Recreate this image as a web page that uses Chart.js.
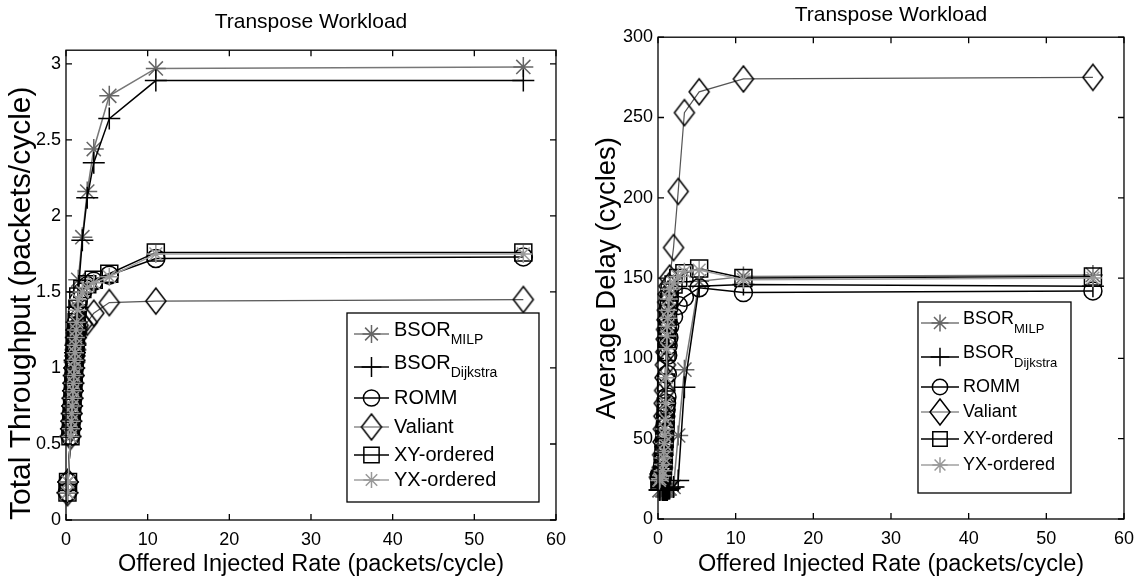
<!DOCTYPE html>
<html>
<head>
<meta charset="utf-8">
<title>Transpose Workload</title>
<script src="https://cdn.jsdelivr.net/npm/chart.js@4.4.1/dist/chart.umd.min.js"></script>
<style>
body { margin: 0; background: #fff; }
#wrap { width: 1143px; height: 582px; display: flex; }
canvas { display: block; }
</style>
</head>
<body>
<div id="wrap">
  <canvas id="throughput-chart" width="575" height="582"></canvas>
  <canvas id="delay-chart" width="568" height="582"></canvas>
</div>
<script>
// offered injected rate (packets/cycle), shared by every series
var rates = [0.18, 0.25, 0.55, 0.6, 0.65, 0.7, 0.75, 0.8, 0.85, 0.9, 0.95, 1.0, 1.05, 1.1, 1.15, 1.2, 1.25, 1.3, 1.4, 1.5, 2.0, 2.6, 3.4, 5.3, 11, 56];

// total throughput (packets/cycle)
var thrMilp     = [0.18, 0.25, 0.55, 0.6, 0.65, 0.7, 0.75, 0.8, 0.85, 0.9, 0.95, 1.0, 1.05, 1.1, 1.15, 1.2, 1.25, 1.3, 1.4, 1.58, 1.86, 2.16, 2.44, 2.79, 2.97, 2.98];
var thrDijkstra = [0.18, 0.25, 0.55, 0.6, 0.65, 0.7, 0.75, 0.8, 0.85, 0.9, 0.95, 1.0, 1.05, 1.1, 1.15, 1.2, 1.25, 1.3, 1.4, 1.5, 1.84, 2.12, 2.35, 2.64, 2.89, 2.89];
var thrRomm     = [0.18, 0.25, 0.55, 0.6, 0.65, 0.7, 0.75, 0.8, 0.85, 0.9, 0.95, 1.0, 1.05, 1.1, 1.15, 1.2, 1.25, 1.3, 1.37, 1.44, 1.5, 1.54, 1.57, 1.61, 1.72, 1.73];
var thrValiant  = [0.18, 0.25, 0.55, 0.6, 0.65, 0.7, 0.75, 0.8, 0.85, 0.9, 0.95, 1.0, 1.04, 1.08, 1.12, 1.16, 1.2, 1.23, 1.26, 1.28, 1.29, 1.3, 1.36, 1.43, 1.44, 1.45];
var thrXY       = [0.18, 0.25, 0.55, 0.6, 0.65, 0.7, 0.75, 0.8, 0.85, 0.9, 0.95, 1.0, 1.05, 1.1, 1.15, 1.2, 1.25, 1.3, 1.39, 1.47, 1.52, 1.55, 1.58, 1.62, 1.76, 1.76];
var thrYX       = [0.18, 0.25, 0.55, 0.6, 0.65, 0.7, 0.75, 0.8, 0.85, 0.9, 0.95, 1.0, 1.05, 1.1, 1.15, 1.2, 1.25, 1.3, 1.38, 1.45, 1.5, 1.53, 1.56, 1.6, 1.75, 1.75];

// average delay (cycles)
var delMilp     = [18, 18, 18, 18, 18, 18, 18, 18, 18, 18, 18, 18, 18, 18, 18, 18, 19, 19, 19, 19, 20, 52, 93, 148, 151, 152];
var delDijkstra = [18, 18, 18, 18, 18, 18, 18, 18, 18, 18, 18, 18, 18, 18, 18, 18, 19, 19, 19, 19, 20, 24, 82, 145, 146, 145];
var delRomm     = [25, 26, 29, 33, 37, 41, 45, 49, 53, 57, 60, 64, 68, 72, 76, 90, 102, 108, 113, 120, 126, 133, 138, 144, 141, 142];
var delValiant  = [26, 28, 32, 40, 48, 56, 64, 72, 80, 88, 96, 104, 112, 118, 124, 130, 135, 140, 145, 150, 169, 204, 253, 266, 274, 275];
var delXY       = [24, 25, 27, 30, 33, 36, 40, 45, 50, 54, 60, 70, 85, 104, 112, 118, 123, 128, 135, 141, 146, 150, 153, 156, 150, 151];
var delYX       = [24, 25, 27, 30, 34, 38, 42, 47, 52, 56, 62, 72, 88, 106, 114, 120, 125, 130, 137, 143, 147, 151, 154, 155, 149, 150];

// legend names, [main text, subscript]
var seriesNames = [['BSOR', 'MILP'], ['BSOR', 'Dijkstra'], ['ROMM', ''], ['Valiant', ''], ['XY-ordered', ''], ['YX-ordered', '']];

var xTicks = [0, 10, 20, 30, 40, 50, 60];
var thrTicks = [0, 0.5, 1, 1.5, 2, 2.5, 3];
var delayTicks = [0, 50, 100, 150, 200, 250, 300];

var FONT = '"Liberation Sans", Arial, Helvetica, sans-serif';

// MATLAB diamonds are taller than wide
function tallDiamond(hw, hh) {
    var c = document.createElement('canvas');
    c.width = hw * 2 + 4;
    c.height = hh * 2 + 4;
    var g = c.getContext('2d');
    var cx = c.width / 2, cy = c.height / 2;
    g.strokeStyle = '#000';
    g.lineWidth = 1.5;
    g.beginPath();
    g.moveTo(cx, cy - hh);
    g.lineTo(cx + hw, cy);
    g.lineTo(cx, cy + hh);
    g.lineTo(cx - hw, cy);
    g.closePath();
    g.stroke();
    return c;
}

var styles = [
    { line: '#777777', mark: '#666666', shape: 'star',    r: 10, lw: 1.5 },
    { line: '#000000', mark: '#000000', shape: 'cross',   r: 11, lw: 1.5 },
    { line: '#000000', mark: '#000000', shape: 'circle',  r: 9,  lw: 1.5 },
    { line: '#555555', mark: '#000000', shape: tallDiamond(10, 13), r: 11, lw: 1.2 },
    { line: '#000000', mark: '#000000', shape: 'rect',    r: 12, lw: 1.5 },
    { line: '#a0a0a0', mark: '#999999', shape: 'star',    r: 9,  lw: 1.5 }
];

function makeDatasets(valueLists) {
    return valueLists.map(function (vals, i) {
        var s = styles[i];
        return {
            label: seriesNames[i].join(''),
            names: seriesNames[i],
            data: rates.map(function (r, j) { return { x: r, y: vals[j] }; }),
            borderColor: s.line,
            borderWidth: s.lw,
            pointStyle: s.shape,
            pointRadius: s.r,
            pointBorderColor: s.mark,
            pointBorderWidth: 1.5,
            pointBackgroundColor: 'rgba(0,0,0,0)',
            fill: false,
            tension: 0,
            clip: false,
            order: 5 - i
        };
    });
}

// box around the plot with inward ticks on every side (MATLAB style)
var frameTicks = {
    id: 'frameTicks',
    afterDraw: function (chart) {
        var a = chart.chartArea, ctx = chart.ctx, len = 6;
        ctx.save();
        ctx.strokeStyle = '#000';
        ctx.lineWidth = 1.3;
        ctx.strokeRect(a.left, a.top, a.right - a.left, a.bottom - a.top);
        ctx.beginPath();
        chart.scales.x.ticks.forEach(function (t) {
            var px = chart.scales.x.getPixelForValue(t.value);
            ctx.moveTo(px, a.bottom); ctx.lineTo(px, a.bottom - len);
            ctx.moveTo(px, a.top); ctx.lineTo(px, a.top + len);
        });
        chart.scales.y.ticks.forEach(function (t) {
            var py = chart.scales.y.getPixelForValue(t.value);
            ctx.moveTo(a.left, py); ctx.lineTo(a.left + len, py);
            ctx.moveTo(a.right, py); ctx.lineTo(a.right - len, py);
        });
        ctx.stroke();
        ctx.restore();
    }
};

// legend box with subscripted names
var legendBox = {
    id: 'legendBox',
    afterDraw: function (chart, args, o) {
        var a = chart.chartArea, ctx = chart.ctx;
        var left = a.right - o.right - o.width;
        var top = a.bottom - o.bottom - o.height;
        ctx.save();
        ctx.fillStyle = '#fff';
        ctx.fillRect(left, top, o.width, o.height);
        ctx.strokeStyle = '#000';
        ctx.lineWidth = 1.3;
        ctx.strokeRect(left, top, o.width, o.height);
        chart.data.datasets.forEach(function (ds, i) {
            var y = top + o.rows[i];
            ctx.strokeStyle = ds.borderColor;
            ctx.lineWidth = ds.borderWidth;
            ctx.beginPath();
            ctx.moveTo(left + o.lineFrom, y);
            ctx.lineTo(left + o.lineTo, y);
            ctx.stroke();
            if (Chart.helpers && Chart.helpers.drawPoint) {
                ctx.strokeStyle = ds.pointBorderColor;
                ctx.fillStyle = 'rgba(0,0,0,0)';
                ctx.lineWidth = ds.pointBorderWidth;
                Chart.helpers.drawPoint(ctx, {
                    pointStyle: ds.pointStyle,
                    radius: ds.pointRadius * o.markScale,
                    rotation: 0,
                    borderWidth: ds.pointBorderWidth
                }, left + (o.lineFrom + o.lineTo) / 2, y);
            }
            ctx.fillStyle = '#000';
            ctx.textBaseline = 'middle';
            ctx.textAlign = 'left';
            ctx.font = o.fontSize + 'px ' + FONT;
            var tx = left + o.textX;
            var hasSub = ds.names[1] !== '';
            ctx.fillText(ds.names[0], tx, hasSub ? y - 4 : y);
            if (hasSub) {
                var w = ctx.measureText(ds.names[0]).width;
                ctx.font = Math.round(o.fontSize * 0.72) + 'px ' + FONT;
                ctx.fillText(ds.names[1], tx + w, y + 6);
            }
        });
        ctx.restore();
    }
};

function keepTicks(list) {
    return function (scale) {
        scale.ticks = list.map(function (v) { return { value: v }; });
    };
}

function makeOptions(cfg) {
    return {
        responsive: false,
        animation: false,
        devicePixelRatio: 1,
        layout: { padding: { left: 0, right: cfg.padRight, top: 0, bottom: 0 } },
        plugins: {
            legend: { display: false },
            tooltip: { enabled: false },
            title: {
                display: true,
                text: 'Transpose Workload',
                color: '#000',
                fullSize: false,
                font: { family: FONT, size: 21, weight: 'normal' },
                padding: cfg.titlePad
            },
            legendBox: cfg.legend
        },
        scales: {
            x: {
                type: 'linear',
                min: 0, max: 60,
                afterBuildTicks: keepTicks(xTicks),
                afterFit: function (s) { s.height = cfg.xHeight; },
                grid: { display: false, drawTicks: false },
                border: { display: false },
                ticks: { color: '#000', padding: 9, font: { family: FONT, size: 18 } },
                title: {
                    display: true,
                    text: 'Offered Injected Rate (packets/cycle)',
                    color: '#000',
                    font: { family: FONT, size: 23.5 },
                    padding: { top: 0, bottom: 3 }
                }
            },
            y: {
                min: 0, max: cfg.yMax,
                afterBuildTicks: keepTicks(cfg.yTicks),
                afterFit: function (s) { s.width = cfg.yWidth; },
                grid: { display: false, drawTicks: false },
                border: { display: false },
                ticks: {
                    color: '#000', padding: 5,
                    font: { family: FONT, size: 18 },
                    callback: function (v) { return String(v); }
                },
                title: {
                    display: true,
                    text: cfg.yTitle,
                    align: cfg.yTitleAlign,
                    color: '#000',
                    font: { family: FONT, size: cfg.yTitleSize },
                    padding: { top: cfg.yTitlePad, bottom: 0 }
                }
            }
        }
    };
}

var throughputChart = new Chart(document.getElementById('throughput-chart'), {
    type: 'line',
    data: { datasets: makeDatasets([thrMilp, thrDijkstra, thrRomm, thrValiant, thrXY, thrYX]) },
    options: makeOptions({
        padRight: 18, titlePad: { top: 10, bottom: 15 }, xHeight: 62, yWidth: 66,
        yMax: 3.09, yTicks: thrTicks, yTitle: 'Total Throughput (packets/cycle)',
        yTitleSize: 30, yTitlePad: 4, yTitleAlign: 'start',
        legend: { right: 17, bottom: 18, width: 192, height: 189,
                  rows: [21, 54, 85, 114, 142, 167], lineFrom: 7, lineTo: 42, textX: 47,
                  fontSize: 20, markScale: 0.9 }
    }),
    plugins: [frameTicks, legendBox]
});

var delayChart = new Chart(document.getElementById('delay-chart'), {
    type: 'line',
    data: { datasets: makeDatasets([delMilp, delDijkstra, delRomm, delValiant, delXY, delYX]) },
    options: makeOptions({
        padRight: 15, titlePad: { top: 3, bottom: 9 }, xHeight: 63, yWidth: 83,
        yMax: 300, yTicks: delayTicks, yTitle: 'Average Delay (cycles)',
        yTitleSize: 27.5, yTitlePad: 16, yTitleAlign: 'center',
        legend: { right: 53, bottom: 26, width: 153, height: 191,
                  rows: [21, 55, 85, 110, 137, 163], lineFrom: 3, lineTo: 41, textX: 45,
                  fontSize: 18, markScale: 0.85 }
    }),
    plugins: [frameTicks, legendBox]
});
</script>
</body>
</html>
